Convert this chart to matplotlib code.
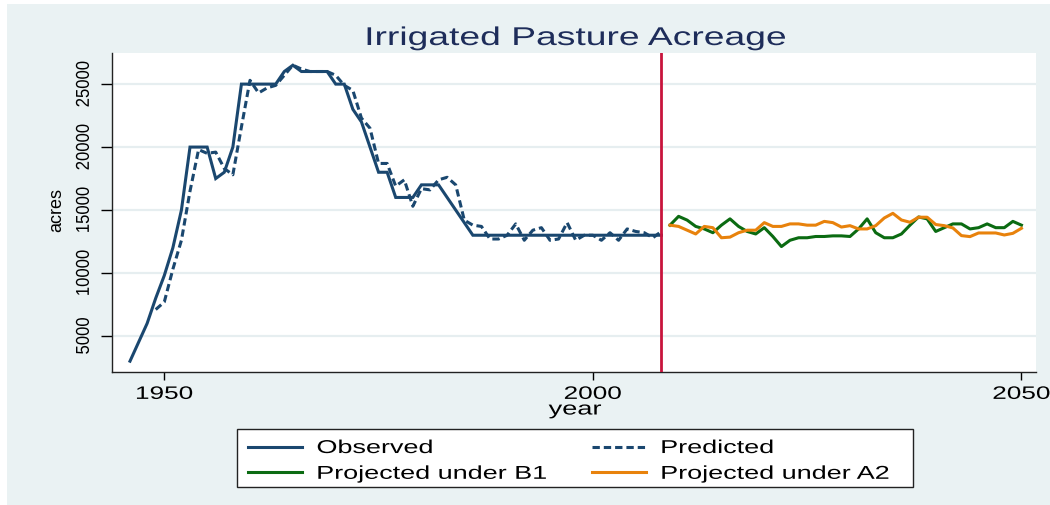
import matplotlib
matplotlib.use("Agg")
import matplotlib.pyplot as plt
from matplotlib.patheffects import AbstractPathEffect
from matplotlib.transforms import Affine2D
from matplotlib.patches import Rectangle

# ---------------- data ----------------
obs_years = [1946, 1948, 1949, 1950, 1951, 1952, 1953, 1954, 1955, 1956, 1957, 1958,
             1959, 1960, 1961, 1962, 1963, 1964, 1965, 1966, 1967, 1968, 1969, 1970,
             1971, 1972, 1973, 1975, 1976, 1977, 1978, 1979, 1980, 1981, 1982, 1986,
             1990, 1995, 2000, 2005, 2008]
obs_values = [3000, 6000, 8000, 9800, 12000, 15000, 20000, 20000, 20000, 17500, 18000, 20000,
              25000, 25000, 25000, 25000, 25000, 26000, 26500, 26000, 26000, 26000, 26000, 25000,
              25000, 23000, 22000, 18000, 18000, 16000, 16000, 16000, 17000, 17000, 17000, 13000,
              13000, 13000, 13000, 13000, 13000]

pred_years = list(range(1949, 2009))
pred_values = [7100, 7700, 10300, 12600, 16500, 19800, 19500, 19600, 18300, 17800,   # 1949-1958
               21600, 25300, 24300, 24700, 24900, 25700, 26500, 26200, 26000, 26000,  # 1959-1968
               26000, 25700, 24900, 24500, 22300, 21500, 18700, 18700, 16900, 17400,  # 1969-1978
               15300, 16700, 16600, 17400, 17600, 17000, 14200, 13800, 13700, 12700,  # 1979-1988
               12700, 13000, 13900, 12600, 13400, 13600, 12600, 12700, 14000, 12600,  # 1989-1998
               13000, 13000, 12600, 13200, 12600, 13500, 13300, 13200, 12800, 13300]  # 1999-2008

proj_years = list(range(2009, 2051))
b1_values = [13800, 14500, 14200, 13700, 13500, 13200, 13800, 14300, 13700, 13300,  # 2009-2018
             13100, 13600, 12900, 12100, 12600, 12800, 12800, 12900, 12900, 12950,  # 2019-2028
             12950, 12900, 13500, 14300, 13200, 12800, 12800, 13100, 13800, 14450,  # 2029-2038
             14300, 13300, 13600, 13900, 13900, 13500, 13600, 13900, 13600, 13600,  # 2039-2048
             14100, 13800]                                                          # 2049-2050
a2_values = [13800, 13700, 13400, 13100, 13700, 13600, 12800, 12850, 13200, 13400,  # 2009-2018
             13400, 14000, 13700, 13700, 13900, 13900, 13800, 13800, 14100, 14000,  # 2019-2028
             13650, 13760, 13500, 13500, 13760, 14370, 14740, 14210, 14030, 14430,  # 2029-2038
             14430, 13850, 13760, 13580, 12970, 12890, 13180, 13180, 13180, 13020,  # 2039-2048
             13150, 13550]                                                          # 2049-2050

cutoff_year = 2008
x_ticks = [1950, 2000, 2050]
y_ticks = [5000, 10000, 15000, 20000, 25000]
legend_labels = ["Observed", "Predicted", "Projected under B1", "Projected under A2"]
title_text = "Irrigated Pasture Acreage"

# ---------------- style ----------------
W, H = 1050, 505
BG = "#eaf2f3"
NAVY = "#1a476f"
GREEN = "#0b6b12"
ORANGE = "#e8820c"
RED = "#c8143c"
SX = 1.45


class HStretch(AbstractPathEffect):
    """Horizontally stretch drawn text glyphs (text stays real text)."""

    def __init__(self, sx, anchor="center"):
        super().__init__()
        self._sx = sx
        self._anchor = anchor

    def draw_path(self, renderer, gc, tpath, affine, rgbFace=None):
        ext = tpath.get_extents(affine)
        if self._anchor == "left":
            x0 = ext.x0
        elif self._anchor == "right":
            x0 = ext.x1
        else:
            x0 = 0.5 * (ext.x0 + ext.x1)
        t = affine + Affine2D().translate(-x0, 0).scale(self._sx, 1).translate(x0, 0)
        renderer.draw_path(gc, tpath, t, rgbFace)


plt.rcParams["font.family"] = ["Liberation Sans", "DejaVu Sans"]

fig = plt.figure(figsize=(W / 100, H / 100), dpi=100)
fig.patch.set_facecolor("white")
fig.add_artist(Rectangle((7 / W, 0), 1 - 7 / W, 1 - 4 / H, transform=fig.transFigure,
                         facecolor=BG, edgecolor="none", zorder=-10))

L, R, T, B = 112, 1036, 53, 372
ax = fig.add_axes([L / W, 1 - B / H, (R - L) / W, (B - T) / H])
ax.set_facecolor("white")

ax.plot(obs_years, obs_values, color=NAVY, lw=2.2, solid_joinstyle="miter", zorder=3)
ax.plot(pred_years, pred_values, color=NAVY, lw=2.2, linestyle=(0, (2.4, 1.3)), zorder=3)
ax.plot(proj_years, b1_values, color=GREEN, lw=2.2, zorder=3)
ax.plot(proj_years, a2_values, color=ORANGE, lw=2.2, zorder=3)
ax.axvline(cutoff_year, color=RED, lw=2.0, zorder=4)

ax.set_xlim(1943.9, 2051.7)
ax.set_ylim(2140, 27470)
ax.set_xticks(x_ticks)
ax.set_yticks(y_ticks)
ax.set_yticklabels([str(v) for v in y_ticks])
ax.yaxis.grid(True, color="#e6eef0", lw=1.6)
ax.set_axisbelow(True)

for s in ["top", "right"]:
    ax.spines[s].set_visible(False)
for s in ["left", "bottom"]:
    ax.spines[s].set_color("#222222")
    ax.spines[s].set_linewidth(1.0)

ax.tick_params(axis="x", length=6, width=1, pad=4, labelsize=13, colors="black")
ax.tick_params(axis="y", length=8, width=1, pad=7, labelsize=12, colors="black")
for lab in ax.get_yticklabels():
    lab.set_rotation(90)
    lab.set_va("center")
    lab.set_path_effects([HStretch(1.12)])
for lab in ax.get_xticklabels():
    lab.set_path_effects([HStretch(SX)])

ax.set_xlabel("year", fontsize=13.5)
ax.xaxis.label.set_path_effects([HStretch(SX)])
ax.xaxis.label.set_va("center")
ax.xaxis.set_label_coords((575 - L) / (R - L), (B - 410) / (B - T))

ax.set_ylabel("acres", fontsize=13)
ax.yaxis.label.set_va("center")
ax.yaxis.label.set_rotation_mode("default")
ax.yaxis.set_label_coords((57 - L) / (R - L), (B - 210) / (B - T))

fig.text(576 / W, 1 - 45 / H, title_text, ha="center", va="baseline", fontsize=18.5,
         color="#1e2d5a", path_effects=[HStretch(SX)])

# ---------------- legend ----------------
lines = ax.get_lines()
h_obs, h_pred, h_b1, h_a2 = lines[0], lines[1], lines[2], lines[3]
fig.add_artist(Rectangle((237 / W, 1 - 487 / H), (913 - 237) / W, (487 - 429) / H,
                         transform=fig.transFigure, facecolor="white",
                         edgecolor="#222222", lw=1.0, zorder=2))
common = dict(loc="upper left", frameon=False, borderpad=0, borderaxespad=0,
              handlelength=2.9, handletextpad=0.8, labelspacing=0.47, fontsize=13.4)
leg1 = fig.legend([h_obs, h_b1], [legend_labels[0], legend_labels[2]],
                  bbox_to_anchor=(248 / W, 1 - 440 / H), **common)
leg2 = fig.legend([h_pred, h_a2], [legend_labels[1], legend_labels[3]],
                  bbox_to_anchor=(592 / W, 1 - 440 / H), **common)
for leg in (leg1, leg2):
    leg.set_zorder(5)
    for t in leg.get_texts():
        t.set_path_effects([HStretch(SX, anchor="left")])

fig.savefig("out.png", dpi=100, facecolor=fig.get_facecolor())
